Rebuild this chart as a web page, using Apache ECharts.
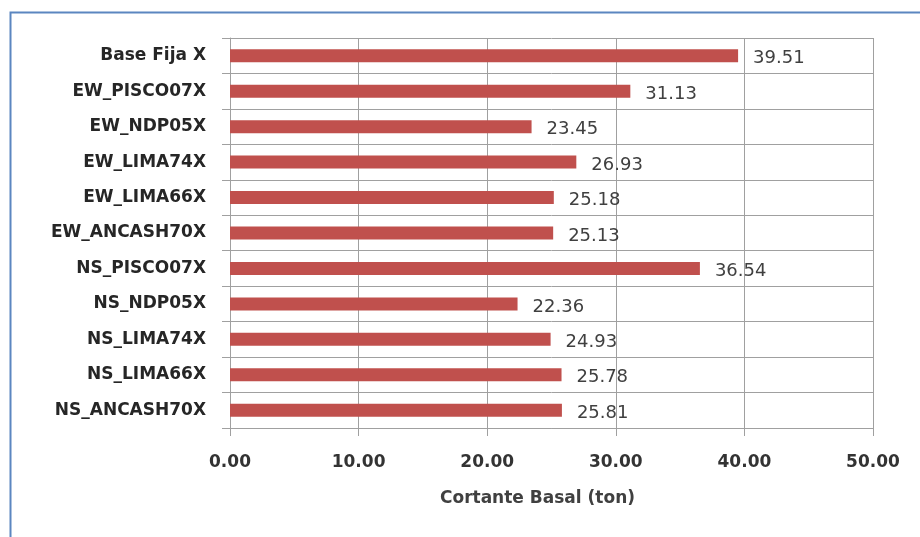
<!DOCTYPE html>
<html>
<head>
<meta charset="utf-8">
<script src="https://cdn.jsdelivr.net/npm/echarts@6/dist/echarts.min.js"></script>
<style>
html,body{margin:0;padding:0;background:#fff;}
#chart{width:920px;height:537px;}
</style>
</head>
<body>
<div id="chart"></div>
<script>
// Categories listed bottom-to-top (ECharts category y axis starts at the bottom)
var categories = ["NS_ANCASH70X","NS_LIMA66X","NS_LIMA74X","NS_NDP05X","NS_PISCO07X","EW_ANCASH70X","EW_LIMA66X","EW_LIMA74X","EW_NDP05X","EW_PISCO07X","Base Fija X"];
var values = [25.81, 25.78, 24.93, 22.36, 36.54, 25.13, 25.18, 26.93, 23.45, 31.13, 39.51];
var axisTitle = "Cortante Basal (ton)";

var chart = echarts.init(document.getElementById('chart'));
chart.setOption({
  animation: false,
  backgroundColor: '#ffffff',
  graphic: [{
    type: 'rect',
    shape: { x: 10.5, y: 12.5, width: 930, height: 560 },
    style: { fill: 'none', stroke: '#5b86c0', lineWidth: 2 },
    silent: true
  }],
  grid: { left: 230, right: 47, top: 38, bottom: 109, containLabel: false },
  xAxis: {
    type: 'value', min: 0, max: 50, interval: 10,
    name: axisTitle, nameLocation: 'middle', nameGap: 62,
    nameTextStyle: { fontFamily: 'DejaVu Sans', fontWeight: 'bold', fontSize: 17, color: '#404040', padding: [0, 28, 0, 0] },
    axisLine: { show: true, lineStyle: { color: '#a0a0a0', width: 1 } },
    axisTick: { show: true, length: 8, lineStyle: { color: '#a0a0a0' } },
    axisLabel: { formatter: function (v) { return v.toFixed(2); }, fontFamily: 'DejaVu Sans', fontWeight: 'bold', fontSize: 17, color: '#333333', margin: 26 },
    splitLine: { show: true, lineStyle: { color: '#a0a0a0', width: 1 } }
  },
  yAxis: {
    type: 'category', data: categories,
    axisLine: { show: true, lineStyle: { color: '#a0a0a0', width: 1 } },
    axisTick: { show: true, length: 8, lineStyle: { color: '#a0a0a0' } },
    axisLabel: { fontFamily: 'DejaVu Sans', fontWeight: 'bold', fontSize: 17, color: '#262626', margin: 24 },
    splitLine: { show: true, lineStyle: { color: '#a0a0a0', width: 1 } }
  },
  series: [{
    type: 'bar', data: values, barWidth: 13,
    itemStyle: { color: '#c0504d' },
    label: {
      show: true, position: 'right', distance: 15, offset: [0, 3],
      formatter: function (p) { return p.value.toFixed(2); },
      fontFamily: 'DejaVu Sans', fontSize: 18, color: '#404040'
    }
  }]
});
</script>
</body>
</html>
